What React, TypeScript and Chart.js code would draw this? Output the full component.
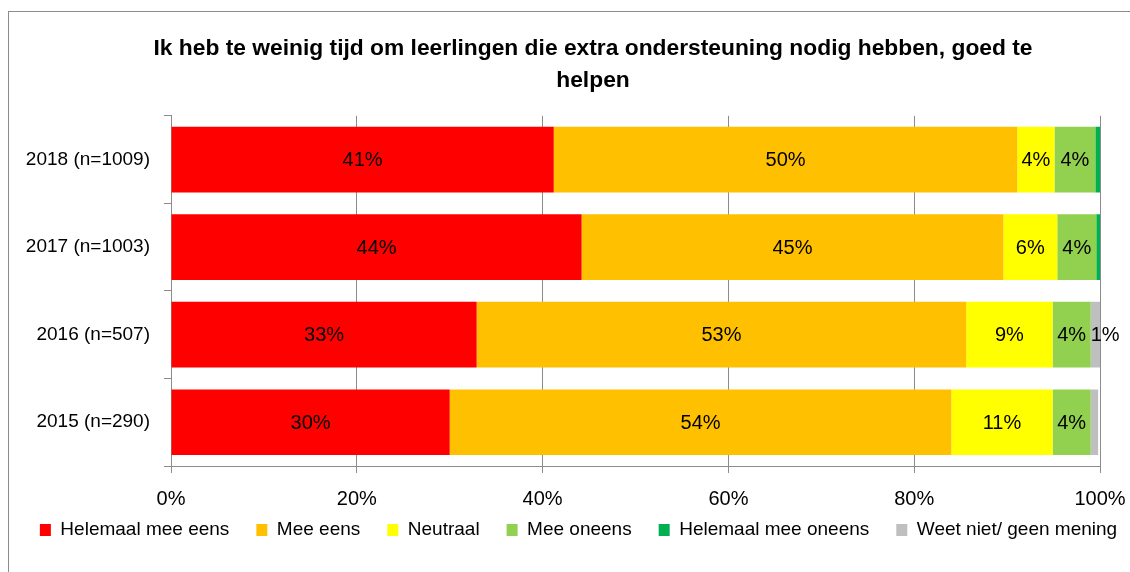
import React, { useEffect, useRef } from "react";
import { Chart, registerables } from "chart.js";

Chart.register(...registerables);

const titleLines = [
  "Ik heb te weinig tijd om leerlingen die extra ondersteuning nodig hebben, goed te",
  "helpen",
];
const categories = ["2018 (n=1009)", "2017 (n=1003)", "2016 (n=507)", "2015 (n=290)"];
const seriesNames = [
  "Helemaal mee eens",
  "Mee eens",
  "Neutraal",
  "Mee oneens",
  "Helemaal mee oneens",
  "Weet niet/ geen mening",
];
const helemaalMeeEens = [41.2, 44.2, 32.9, 30.0];
const meeEens = [49.9, 45.4, 52.7, 54.0];
const neutraal = [4.0, 5.8, 9.3, 10.9];
const meeOneens = [4.4, 4.2, 4.1, 4.1];
const helemaalMeeOneens = [0.5, 0.4, 0, 0];
const weetNiet = [0, 0, 1.0, 0.8];
const xTicks = [0, 20, 40, 60, 80, 100];

const colors = ["#FF0000", "#FFC000", "#FFFF00", "#92D050", "#00B050", "#BFBFBF"];
const FONT = "'Liberation Sans', Arial, sans-serif";
const GRID = "#8c8c8c";

const CANVAS_W = 1190;
const CANVAS_H = 572;

const valueLabels = {
  id: "valueLabels",
  afterDatasetsDraw(chart: any) {
    const ctx = chart.ctx;
    ctx.save();
    ctx.font = `20px ${FONT}`;
    ctx.fillStyle = "#000";
    ctx.textBaseline = "middle";
    chart.data.datasets.forEach((ds: any, di: number) => {
      const meta = chart.getDatasetMeta(di);
      meta.data.forEach((el: any, i: number) => {
        const v = ds.data[i];
        if (v < 1) return;
        const text = Math.round(v) + "%";
        const segW = Math.abs(el.x - el.base);
        const tw = ctx.measureText(text).width;
        if (tw > segW) {
          ctx.textAlign = "left";
          ctx.fillText(text, Math.min(el.x, el.base), el.y + 1);
        } else {
          ctx.textAlign = "center";
          ctx.fillText(text, (el.x + el.base) / 2, el.y + 1);
        }
      });
    });
    ctx.restore();
  },
};

const legendShift = {
  id: "legendShift",
  afterLayout(chart: any) {
    const l = chart.legend;
    if (l) {
      l.left -= 14.5;
      l.right -= 14.5;
      l.top -= 17.5;
      l.bottom -= 17.5;
    }
  },
};

export default function App() {
  const ref = useRef<HTMLCanvasElement | null>(null);
  useEffect(() => {
    if (!ref.current) return;
    const series = [helemaalMeeEens, meeEens, neutraal, meeOneens, helemaalMeeOneens, weetNiet];
    const chart = new Chart(ref.current, {
      type: "bar",
      data: {
        labels: categories,
        datasets: series.map((d, i) => ({
          label: seriesNames[i],
          data: d,
          backgroundColor: colors[i],
          borderWidth: 0,
          barPercentage: 1,
          categoryPercentage: 0.75,
        })),
      },
      options: {
        indexAxis: "y",
        responsive: false,
        animation: false,
        layout: { padding: { left: 10, right: 14, top: 10, bottom: 5 } },
        scales: {
          x: {
            stacked: true,
            min: 0,
            max: 100,
            afterBuildTicks: (scale: any) => {
              scale.ticks = xTicks.map((v) => ({ value: v }));
            },
            afterFit: (scale: any) => {
              scale.height = 45;
            },
            ticks: {
              callback: (v: any) => v + "%",
              font: { family: FONT, size: 20 },
              color: "#000",
              padding: 14,
              maxRotation: 0,
              autoSkip: false,
            },
            grid: { color: GRID, lineWidth: 1, tickLength: 7, drawTicks: true },
            border: { color: GRID, width: 1 },
          },
          y: {
            stacked: true,
            afterFit: (scale: any) => {
              scale.width = 161;
            },
            ticks: {
              font: { family: FONT, size: 19 },
              color: "#000",
              padding: 14,
            },
            grid: {
              color: GRID,
              drawOnChartArea: false,
              drawTicks: true,
              tickLength: 7,
              offset: true,
            },
            border: { color: GRID, width: 1 },
          },
          spacer: {
            type: "linear",
            axis: "y",
            position: "right",
            display: true,
            afterFit: (scale: any) => {
              scale.width = 76;
            },
            ticks: { display: false },
            grid: { display: false, drawTicks: false },
            border: { display: false },
          },
        },
        plugins: {
          title: {
            display: true,
            text: titleLines,
            color: "#000",
            font: { family: FONT, size: 22.8, weight: "bold", lineHeight: 1.4 },
            padding: { top: 23, bottom: 19 },
          },
          legend: {
            display: true,
            position: "bottom",
            labels: {
              boxWidth: 11,
              boxHeight: 12,
              padding: 27,
              color: "#000",
              font: { family: FONT, size: 19 },
            },
          },
          tooltip: { enabled: false },
        },
      },
      plugins: [valueLabels, legendShift],
    } as any);
    return () => chart.destroy();
  }, []);

  return (
    <div
      style={{
        position: "fixed",
        left: 0,
        top: 0,
        width: 1130,
        height: 572,
        overflow: "hidden",
        background: "#fff",
      }}
    >
      <div
        style={{
          position: "absolute",
          left: 8,
          top: 11,
          width: 2000,
          height: 2000,
          border: "1px solid #8c8c8c",
        }}
      />
      <canvas
        ref={ref}
        width={CANVAS_W}
        height={CANVAS_H}
        style={{ position: "absolute", left: 0, top: 0, display: "block" }}
      />
    </div>
  );
}
